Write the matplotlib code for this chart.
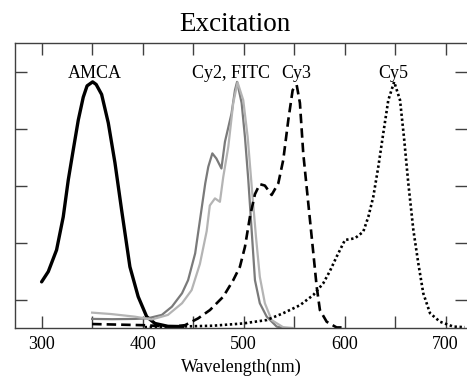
import matplotlib
matplotlib.use("Agg")
import matplotlib.pyplot as plt
from matplotlib.ticker import MultipleLocator

# ---- data ----
amca_wl = [300, 306.6, 314.8, 321.4, 326.4, 331.3, 336.3, 341.2, 345, 350.5, 354, 359.4, 366,
           372.6, 379.2, 387.4, 395.6, 404, 412.2, 425, 440]
amca_v = [0.162, 0.198, 0.274, 0.39, 0.52, 0.625, 0.73, 0.81, 0.85, 0.864, 0.855, 0.82, 0.72,
          0.58, 0.414, 0.215, 0.11, 0.04, 0.016, 0.006, 0.005]

cy2_wl = [350, 370, 392, 405, 419, 429, 439, 445, 452, 457, 462, 465, 469, 473, 478, 481.5,
          488, 491.4, 493.5, 498, 501.3, 504.6, 507.9, 511.2, 516, 522.8, 532.7, 540]
cy2_v = [0.032, 0.031, 0.032, 0.034, 0.046, 0.075, 0.122, 0.168, 0.262, 0.385, 0.508, 0.566,
         0.613, 0.595, 0.56, 0.654, 0.753, 0.835, 0.864, 0.79, 0.67, 0.52, 0.344, 0.168, 0.087,
         0.04, 0.005, 0.0]

fitc_wl = [350, 369, 392, 409, 425, 439, 448.5, 456.7, 463.4, 466.5, 471.6, 476.5, 479.8,
           484.8, 489.7, 494, 499.6, 504, 508, 512.2, 516, 521, 527.7, 539, 549]
fitc_v = [0.054, 0.049, 0.04, 0.03, 0.046, 0.087, 0.133, 0.225, 0.34, 0.43, 0.455, 0.443, 0.53,
          0.636, 0.79, 0.862, 0.8, 0.67, 0.496, 0.32, 0.18, 0.087, 0.028, 0.003, 0.0]

cy3_wl = [350, 400, 430, 442, 455, 466.6, 479.8, 489.7, 496.3, 501.3, 506.2, 511.2, 516, 521,
          527.7, 534.3, 539.2, 544.2, 548.5, 552.5, 555.7, 559, 564, 569, 572.3, 575.5, 582.2,
          592, 597]
cy3_v = [0.014, 0.01, 0.005, 0.01, 0.034, 0.063, 0.11, 0.168, 0.215, 0.285, 0.39, 0.47, 0.505,
         0.50, 0.467, 0.508, 0.59, 0.73, 0.835, 0.853, 0.79, 0.613, 0.437, 0.262, 0.145, 0.063,
         0.022, 0.002, 0.002]

cy5_wl = [402, 435, 469.6, 499.3, 522.8, 539.2, 555.7, 569, 578.8, 585.4, 592, 600.3, 610.2,
          618.4, 623.4, 628.3, 633.3, 638.2, 643.2, 649, 654.8, 658.7, 663, 668, 672.9, 677.8,
          684.5, 694.4, 707.5, 719]
cy5_v = [0.003, 0.005, 0.008, 0.016, 0.028, 0.052, 0.08, 0.116, 0.157, 0.2, 0.25, 0.309, 0.315,
         0.338, 0.39, 0.46, 0.566, 0.683, 0.8, 0.864, 0.8, 0.67, 0.508, 0.344, 0.227, 0.122,
         0.052, 0.022, 0.005, 0.003]

labels = ["AMCA", "Cy2, FITC", "Cy3", "Cy5"]
label_wl = [353, 487, 552, 648.5]

x_ticks = [300, 400, 500, 600, 700]
y_ticks = [0.1, 0.3, 0.5, 0.7, 0.9]

plt.rcParams['font.family'] = ['Liberation Serif', 'DejaVu Serif']

fig = plt.figure(figsize=(4.67, 3.85), dpi=100)
ax = fig.add_axes([0.032, 0.148, 0.968, 0.74])

ax.plot(amca_wl, amca_v, color='black', lw=2.4, solid_capstyle='round')
ax.plot(cy2_wl, cy2_v, color='#7a7a7a', lw=1.6)
ax.plot(fitc_wl, fitc_v, color='#b4b4b4', lw=1.6)
ax.plot(cy3_wl, cy3_v, color='black', lw=1.9, dashes=(3.6, 1.9))
ax.plot(cy5_wl, cy5_v, color='black', lw=1.9, dashes=(0.9, 1.0))

for t, w in zip(labels, label_wl):
    ax.text(w, 0.878, t, ha='center', va='baseline', fontsize=13)

ax.set_xlim(273.6, 721.1)
ax.set_ylim(0, 1)
ax.set_xticks(x_ticks)
ax.xaxis.set_minor_locator(MultipleLocator(50))
ax.set_yticks(y_ticks)
ax.set_yticklabels([])
ax.tick_params(axis='both', which='both', direction='in', length=8.5, width=1,
               color='#404040', top=True, right=True, labelsize=13, pad=6)
ax.tick_params(axis='y', which='minor', left=False, right=False)
ax.spines['right'].set_visible(False)
for s in ['left', 'top', 'bottom']:
    ax.spines[s].set_color('#404040')
    ax.spines[s].set_linewidth(1)

ax.set_xlabel("Wavelength(nm)", fontsize=13, labelpad=4)
ax.set_title("Excitation", fontsize=19.5, pad=9, x=0.487)

fig.savefig("out.png", dpi=100)
